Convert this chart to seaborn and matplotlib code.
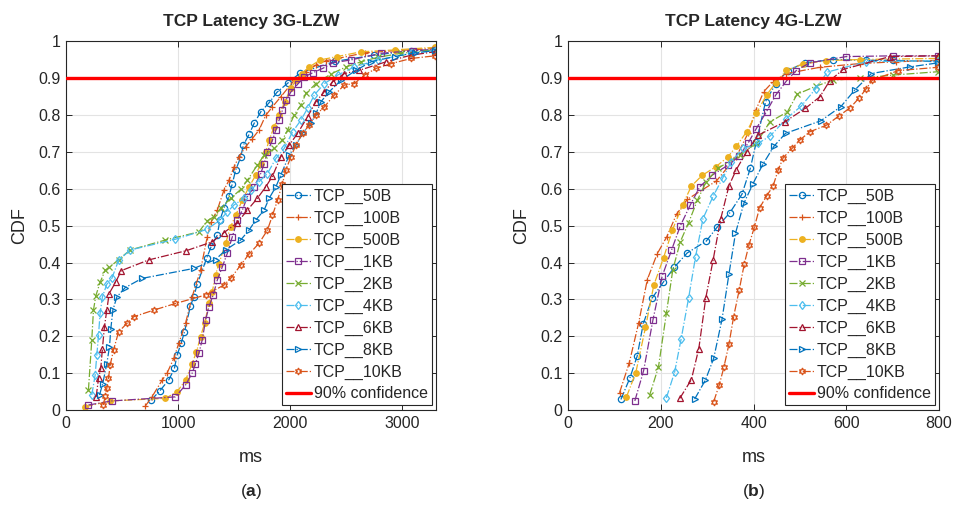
import numpy as np
import pandas as pd
import matplotlib
matplotlib.use("Agg")
import matplotlib.pyplot as plt
import seaborn as sns

series_names = ['TCP__50B', 'TCP__100B', 'TCP__500B', 'TCP__1KB', 'TCP__2KB',
                'TCP__4KB', 'TCP__6KB', 'TCP__8KB', 'TCP__10KB']

# ---- 3G-LZW (latency in ms, CDF) ----
g3_50b_x = [758, 836, 919, 967, 991, 1027, 1057, 1110, 1140, 1170, 1254, 1296, 1349, 1373, 1409, 1454,
            1484, 1513, 1558, 1582, 1633, 1678, 1737, 1812, 1881, 1982, 2090, 2400, 2750, 3081, 3300]
g3_50b_y = [0.027, 0.052, 0.083, 0.113, 0.149, 0.181, 0.212, 0.282, 0.307, 0.341, 0.411, 0.444, 0.474, 0.515,
            0.547, 0.580, 0.614, 0.650, 0.685, 0.718, 0.747, 0.777, 0.808, 0.833, 0.861, 0.887, 0.914, 0.945,
            0.962, 0.974, 0.976]
g3_100b_x = [707, 767, 857, 901, 961, 1006, 1066, 1125, 1200, 1260, 1296, 1349, 1409, 1454, 1499, 1543, 1603,
             1663, 1722, 1782, 1842, 1916, 2036, 2140, 2230, 2319, 2424, 2663, 2931, 3300]
g3_100b_y = [0.011, 0.036, 0.081, 0.100, 0.140, 0.181, 0.235, 0.307, 0.379, 0.470, 0.510, 0.542, 0.596, 0.623,
             0.659, 0.687, 0.714, 0.736, 0.759, 0.799, 0.822, 0.849, 0.894, 0.917, 0.935, 0.947, 0.953, 0.968,
             0.974, 0.980]
g3_500b_x = [170, 394, 887, 991, 1066, 1125, 1164, 1200, 1236, 1275, 1305, 1334, 1364, 1424, 1469, 1513, 1573,
             1633, 1693, 1737, 1782, 1812, 1857, 1901, 1952, 2006, 2051, 2101, 2170, 2269, 2418, 2633, 2931, 3290]
g3_500b_y = [0.009, 0.025, 0.032, 0.050, 0.081, 0.126, 0.158, 0.199, 0.235, 0.289, 0.321, 0.366, 0.397, 0.452,
             0.497, 0.528, 0.569, 0.605, 0.637, 0.668, 0.700, 0.732, 0.768, 0.800, 0.836, 0.872, 0.894, 0.912,
             0.930, 0.949, 0.958, 0.971, 0.976, 0.983]
g3_1kb_x = [200, 409, 976, 1066, 1125, 1155, 1185, 1215, 1245, 1275, 1313, 1349, 1394, 1439, 1484, 1528, 1573,
            1618, 1678, 1737, 1767, 1797, 1842, 1872, 1901, 1931, 1961, 2006, 2072, 2125, 2200, 2290, 2379, 2543,
            2812, 3096, 3290]
g3_1kb_y = [0.014, 0.025, 0.036, 0.068, 0.100, 0.126, 0.154, 0.190, 0.244, 0.280, 0.312, 0.352, 0.388, 0.425,
            0.470, 0.515, 0.542, 0.578, 0.605, 0.641, 0.668, 0.700, 0.732, 0.759, 0.786, 0.813, 0.840, 0.862,
            0.885, 0.903, 0.914, 0.926, 0.941, 0.949, 0.967, 0.974, 0.977]
g3_2kb_x = [200, 230, 245, 266, 304, 349, 388, 469, 573, 887, 1185, 1260, 1319, 1379, 1469, 1558, 1618, 1707,
            1767, 1857, 1931, 1976, 2036, 2096, 2140, 2230, 2364, 2499, 2633, 2782, 2991, 3290]
g3_2kb_y = [0.054, 0.190, 0.271, 0.310, 0.346, 0.379, 0.387, 0.408, 0.434, 0.461, 0.483, 0.513, 0.524, 0.547,
            0.574, 0.598, 0.623, 0.664, 0.691, 0.709, 0.732, 0.759, 0.800, 0.827, 0.858, 0.885, 0.911, 0.930,
            0.944, 0.956, 0.967, 0.976]
g3_4kb_x = [230, 260, 275, 290, 304, 325, 364, 409, 469, 573, 976, 1260, 1373, 1439, 1499, 1588, 1648, 1722,
            1797, 1872, 1946, 2021, 2096, 2155, 2215, 2305, 2424, 2573, 2782, 3081, 3290]
g3_4kb_y = [0.041, 0.095, 0.149, 0.203, 0.262, 0.307, 0.341, 0.357, 0.406, 0.434, 0.463, 0.490, 0.515, 0.537,
            0.556, 0.574, 0.596, 0.619, 0.641, 0.682, 0.709, 0.754, 0.786, 0.818, 0.854, 0.885, 0.908, 0.930,
            0.949, 0.967, 0.974]
g3_6kb_x = [269, 290, 310, 325, 343, 364, 385, 445, 493, 737, 1072, 1304, 1409, 1528, 1618, 1707, 1782, 1842,
            1916, 1991, 2066, 2155, 2230, 2305, 2379, 2484, 2618, 2857, 3081, 3290]
g3_6kb_y = [0.036, 0.086, 0.113, 0.167, 0.226, 0.271, 0.316, 0.348, 0.378, 0.407, 0.432, 0.456, 0.481, 0.508,
            0.542, 0.574, 0.605, 0.634, 0.687, 0.718, 0.750, 0.795, 0.836, 0.863, 0.890, 0.912, 0.921, 0.944,
            0.962, 0.971]
g3_8kb_x = [299, 328, 364, 388, 400, 418, 454, 528, 678, 1140, 1334, 1424, 1558, 1633, 1693, 1767, 1812, 1872,
            1916, 1991, 2051, 2110, 2185, 2230, 2275, 2349, 2454, 2588, 2722, 2931, 3110, 3290]
g3_8kb_y = [0.041, 0.072, 0.126, 0.172, 0.221, 0.271, 0.307, 0.332, 0.357, 0.384, 0.408, 0.434, 0.461, 0.488,
            0.515, 0.542, 0.574, 0.605, 0.637, 0.691, 0.718, 0.750, 0.777, 0.804, 0.836, 0.863, 0.894, 0.921,
            0.944, 0.958, 0.968, 0.974]
g3_10kb_x = [334, 349, 364, 379, 394, 424, 469, 543, 603, 782, 976, 1245, 1409, 1469, 1558, 1633, 1722, 1797,
             1842, 1887, 1931, 1961, 2006, 2051, 2110, 2170, 2230, 2305, 2394, 2484, 2573, 2663, 2767, 2901, 3081,
             3290]
g3_10kb_y = [0.014, 0.039, 0.059, 0.086, 0.122, 0.163, 0.212, 0.235, 0.253, 0.271, 0.289, 0.312, 0.339, 0.357,
             0.393, 0.423, 0.452, 0.488, 0.528, 0.569, 0.614, 0.650, 0.687, 0.718, 0.750, 0.772, 0.800, 0.822,
             0.854, 0.881, 0.885, 0.908, 0.926, 0.939, 0.953, 0.960]

# ---- 4G-LZW ----
g4_50b_x = [114, 133, 149, 162, 181, 205, 229, 257, 298, 321, 349, 375, 393, 406, 426, 448, 474, 510, 571, 643,
            701, 798]
g4_50b_y = [0.029, 0.086, 0.146, 0.233, 0.303, 0.346, 0.387, 0.426, 0.458, 0.495, 0.535, 0.585, 0.655, 0.727,
            0.836, 0.885, 0.920, 0.941, 0.950, 0.948, 0.948, 0.944]
g4_100b_x = [111, 132, 152, 171, 192, 213, 234, 257, 320, 363, 388, 405, 422, 442, 471, 543, 629, 708, 798]
g4_100b_y = [0.047, 0.128, 0.235, 0.354, 0.423, 0.470, 0.531, 0.571, 0.621, 0.687, 0.750, 0.813, 0.863, 0.890,
             0.912, 0.929, 0.939, 0.944, 0.948]
g4_500b_x = [126, 146, 167, 185, 206, 225, 247, 266, 289, 318, 344, 363, 385, 406, 428, 448, 471, 507, 557, 629,
             798]
g4_500b_y = [0.036, 0.101, 0.224, 0.339, 0.413, 0.488, 0.556, 0.607, 0.636, 0.659, 0.685, 0.715, 0.754, 0.804,
             0.854, 0.887, 0.921, 0.938, 0.947, 0.950, 0.953]
g4_1kb_x = [144, 163, 183, 203, 223, 242, 264, 284, 310, 345, 369, 388, 406, 428, 448, 471, 492, 521, 600, 701,
            798]
g4_1kb_y = [0.025, 0.107, 0.244, 0.363, 0.433, 0.499, 0.557, 0.605, 0.636, 0.664, 0.688, 0.723, 0.763, 0.809,
            0.854, 0.892, 0.920, 0.941, 0.958, 0.960, 0.960]
g4_2kb_x = [176, 195, 212, 226, 242, 260, 279, 298, 323, 370, 406, 435, 473, 494, 535, 571, 629, 701, 798]
g4_2kb_y = [0.041, 0.117, 0.262, 0.381, 0.456, 0.508, 0.569, 0.619, 0.655, 0.691, 0.723, 0.781, 0.808, 0.856,
            0.878, 0.894, 0.899, 0.908, 0.917]
g4_4kb_x = [212, 230, 244, 260, 275, 291, 313, 334, 352, 377, 410, 436, 471, 503, 534, 559, 643, 798]
g4_4kb_y = [0.033, 0.104, 0.194, 0.304, 0.416, 0.519, 0.580, 0.630, 0.673, 0.709, 0.723, 0.743, 0.790, 0.824,
            0.871, 0.916, 0.944, 0.947]
g4_6kb_x = [241, 266, 282, 297, 313, 329, 347, 363, 385, 410, 467, 512, 543, 564, 593, 694, 798]
g4_6kb_y = [0.032, 0.083, 0.167, 0.304, 0.408, 0.517, 0.608, 0.652, 0.700, 0.745, 0.781, 0.818, 0.849, 0.892,
            0.923, 0.958, 0.960]
g4_8kb_x = [273, 296, 314, 332, 347, 361, 379, 399, 420, 444, 469, 545, 588, 618, 654, 737, 798]
g4_8kb_y = [0.030, 0.081, 0.140, 0.246, 0.369, 0.479, 0.560, 0.614, 0.666, 0.715, 0.750, 0.784, 0.822, 0.867,
            0.912, 0.930, 0.941]
g4_10kb_x = [314, 326, 336, 347, 357, 369, 380, 390, 402, 413, 428, 442, 453, 464, 483, 500, 521, 557, 584, 609,
             627, 642, 656, 712, 798]
g4_10kb_y = [0.023, 0.068, 0.116, 0.179, 0.253, 0.325, 0.396, 0.447, 0.497, 0.548, 0.580, 0.607, 0.650, 0.684,
             0.709, 0.732, 0.754, 0.772, 0.797, 0.820, 0.845, 0.869, 0.894, 0.920, 0.929]

g3_x = [g3_50b_x, g3_100b_x, g3_500b_x, g3_1kb_x, g3_2kb_x, g3_4kb_x, g3_6kb_x, g3_8kb_x, g3_10kb_x]
g3_y = [g3_50b_y, g3_100b_y, g3_500b_y, g3_1kb_y, g3_2kb_y, g3_4kb_y, g3_6kb_y, g3_8kb_y, g3_10kb_y]
g4_x = [g4_50b_x, g4_100b_x, g4_500b_x, g4_1kb_x, g4_2kb_x, g4_4kb_x, g4_6kb_x, g4_8kb_x, g4_10kb_x]
g4_y = [g4_50b_y, g4_100b_y, g4_500b_y, g4_1kb_y, g4_2kb_y, g4_4kb_y, g4_6kb_y, g4_8kb_y, g4_10kb_y]

colors = ['#0072BD', '#D95319', '#EDB120', '#7E2F8E', '#77AC30',
          '#4DBEEE', '#A2142F', '#0072BD', '#D95319']
markers = ['o', '+', 'o', 's', 'x', 'd', '^', '>', (6, 1, 0)]
filled = [False, True, True, False, True, False, False, False, False]
msizes = [4.5, 5, 4, 4.2, 4, 4.5, 4.8, 4.8, 5]

sns.set_theme(style='whitegrid', rc={
    'axes.edgecolor': '#262626', 'axes.linewidth': 0.8,
    'grid.color': '#E3E3E3', 'grid.linewidth': 0.8,
    'xtick.direction': 'in', 'ytick.direction': 'in',
    'xtick.top': True, 'ytick.right': True,
    'xtick.bottom': True, 'ytick.left': True,
    'xtick.major.size': 4, 'ytick.major.size': 4,
    'xtick.major.width': 0.7, 'ytick.major.width': 0.7,
    'xtick.color': '#262626', 'ytick.color': '#262626',
})
plt.rcParams['font.family'] = ['Liberation Sans', 'DejaVu Sans']
plt.rcParams['mathtext.fontset'] = 'custom'
plt.rcParams['mathtext.bf'] = 'Liberation Sans:bold'

fig = plt.figure(figsize=(9.55, 5.07), dpi=100)
ax1 = fig.add_axes([0.0691, 0.191, 0.3874, 0.728])
ax2 = fig.add_axes([0.5948, 0.191, 0.3885, 0.728])


def draw_panel(ax, xs, ys, title, xlim, xticks, letter):
    for i, name in enumerate(series_names):
        df = pd.DataFrame({'ms': xs[i], 'CDF': ys[i]})
        mfc = colors[i] if filled[i] else 'none'
        sns.lineplot(data=df, x='ms', y='CDF', ax=ax, sort=False, estimator=None,
                     color=colors[i], linestyle='-.', linewidth=0.9,
                     marker=markers[i], markersize=msizes[i], markerfacecolor=mfc,
                     markeredgecolor=colors[i], markeredgewidth=0.9, label=name)
    ax.axhline(0.9, color='#FF0000', linewidth=2.4, label='90% confidence', zorder=5)
    ax.set_xlim(*xlim)
    ax.set_ylim(0, 1)
    ax.set_xticks(xticks)
    ax.set_yticks(np.arange(0, 1.01, 0.1))
    ax.set_yticklabels(['0', '0.1', '0.2', '0.3', '0.4', '0.5', '0.6', '0.7', '0.8', '0.9', '1'])
    ax.tick_params(labelsize=11.5, pad=4)
    ax.set_xlabel('ms', fontsize=13, labelpad=13)
    ax.set_ylabel('CDF', fontsize=13, labelpad=7)
    ax.set_title(title, fontsize=12.5, fontweight='bold', pad=11)
    leg = ax.legend(loc='lower right', bbox_to_anchor=(0.997, 0.004), fontsize=11.5,
                    frameon=True, fancybox=False, edgecolor='#262626', framealpha=1,
                    handlelength=1.6, handletextpad=0.15, labelspacing=0.43,
                    borderpad=0.25, borderaxespad=0.2)
    leg.get_frame().set_linewidth(0.8)
    pos = ax.get_position()
    fig.text(pos.x0 + pos.width / 2, 0.03, '(' + r'$\mathbf{' + letter + '}$' + ')',
             ha='center', va='center', fontsize=12.5)


draw_panel(ax1, g3_x, g3_y, 'TCP Latency 3G-LZW', (0, 3300), [0, 1000, 2000, 3000], 'a')
draw_panel(ax2, g4_x, g4_y, 'TCP Latency 4G-LZW', (0, 800), [0, 200, 400, 600, 800], 'b')

fig.savefig('out.png', dpi=100)
